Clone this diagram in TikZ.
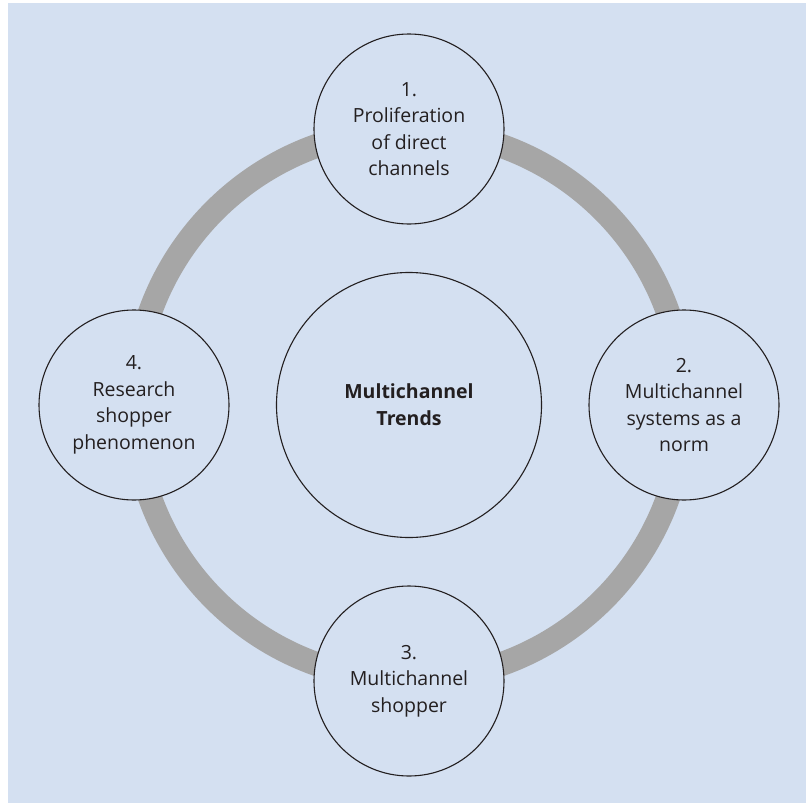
\documentclass[tikz,border=0pt]{standalone}
\usepackage{fontspec}
\setmainfont{Open Sans}
\definecolor{bgblue}{HTML}{D4E0F1}
\definecolor{ringgray}{HTML}{A6A6A6}
\definecolor{txt}{HTML}{231F20}
\begin{document}
\begin{tikzpicture}[x=1pt,y=-1pt,
  trend/.style={circle,draw=txt,line width=1.1pt,fill=bgblue,minimum size=190pt,inner sep=0pt,
    align=center,text=txt,font=\fontsize{19.5}{26.5}\selectfont},
  hub/.style={trend,minimum size=265pt,font=\fontsize{19.5}{27}\selectfont\bfseries}]
\useasboundingbox (0,0) rectangle (806,803);
\fill[bgblue] (8,3) rectangle (806,803);
\coordinate (c) at (409,405);
\draw[ringgray,line width=24pt] (c) circle[radius=275pt];
\node[hub] (m) at (c) {Multichannel\\Trends};
\node[trend] (t1) at (409,129) {1.\\Proliferation\\of direct\\channels};
\node[trend] (t2) at (684,405) {2.\\Multichannel\\systems as a\\norm};
\node[trend] (t3) at (409,681) {3.\\Multichannel\\shopper};
\node[trend] (t4) at (134,405) {4.\\Research\\shopper\\phenomenon};
\end{tikzpicture}
\end{document}
